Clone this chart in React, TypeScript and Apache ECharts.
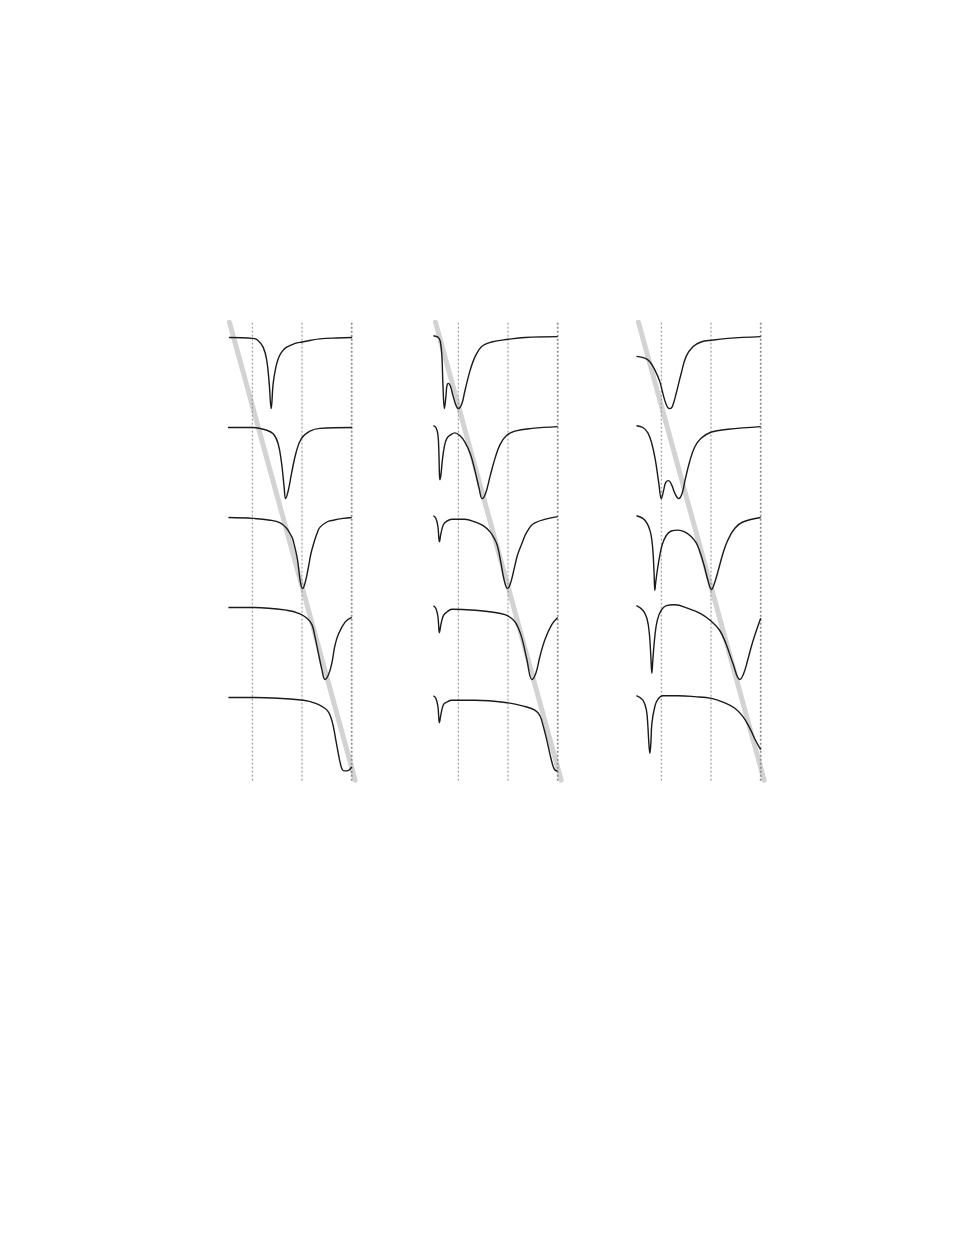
import React, { useEffect, useRef } from "react";
import * as echarts from "echarts";

// Frequency positions of the dotted reference lines (x axis units)
const GUIDE_X = [0, 1, 2];
const GUIDE_Y = [0.076, 5.166];
// Thick grey guide line (start and end, in data units)
const DIAGONAL: [number, number][] = [
  [-0.46, 5.17],
  [2.07, 0.08],
];
// vertical offset of each stacked trace (top to bottom)
const OFFSETS = [4, 3, 2, 1, 0];

// ---------- Panel 1: [x, transmission] ----------
const A1: [number, number][] = [
  [-0.47, 1.0], [0.01, 0.99], [0.11, 0.97], [0.22, 0.89], [0.29, 0.75], [0.34, 0.49],
  [0.38, 0.21], [0.42, 0.49], [0.47, 0.66], [0.52, 0.76], [0.57, 0.82], [0.63, 0.865],
  [0.7, 0.895], [0.8, 0.92], [0.9, 0.94], [1.0, 0.95], [1.18, 0.97], [1.36, 0.985],
  [1.7, 0.995], [2.01, 1.0],
];
const A2: [number, number][] = [
  [-0.49, 1.0], [0.01, 1.0], [0.26, 0.975], [0.42, 0.93], [0.52, 0.82], [0.59, 0.6],
  [0.64, 0.34], [0.67, 0.21], [0.72, 0.29], [0.79, 0.49], [0.88, 0.72], [0.99, 0.88],
  [1.16, 0.96], [1.36, 0.99], [2.01, 1.0],
];
const A3: [number, number][] = [
  [-0.48, 1.0], [0.02, 0.99], [0.36, 0.97], [0.56, 0.94], [0.69, 0.88], [0.79, 0.79],
  [0.82, 0.75], [0.91, 0.53], [0.96, 0.31], [1.01, 0.21], [1.06, 0.27], [1.13, 0.45],
  [1.18, 0.6], [1.24, 0.72], [1.3, 0.82], [1.36, 0.89], [1.5, 0.95], [1.63, 0.97],
  [1.83, 0.99], [2.0, 1.0],
];
const A4: [number, number][] = [
  [-0.48, 1.0], [0.02, 1.0], [0.69, 0.97], [0.96, 0.93], [1.1, 0.88], [1.2, 0.81],
  [1.26, 0.68], [1.33, 0.49], [1.4, 0.31], [1.46, 0.2], [1.53, 0.25], [1.6, 0.38],
  [1.66, 0.57], [1.73, 0.7], [1.87, 0.84], [2.0, 0.89],
];
const A5: [number, number][] = [
  [-0.48, 1.0], [0.02, 1.0], [1.03, 0.97], [1.3, 0.93], [1.46, 0.88], [1.53, 0.84],
  [1.58, 0.78], [1.63, 0.68], [1.68, 0.53], [1.73, 0.38], [1.77, 0.27], [1.81, 0.2],
  [1.85, 0.185], [1.9, 0.185], [1.95, 0.195], [2.0, 0.23],
];

// ---------- Panel 2 ----------
const B1: [number, number][] = [
  [-0.5, 1.02], [-0.4, 1.0], [-0.36, 0.95], [-0.33, 0.79], [-0.31, 0.49], [-0.28, 0.21],
  [-0.25, 0.34], [-0.23, 0.46], [-0.2, 0.49], [-0.16, 0.46], [-0.11, 0.36], [-0.05, 0.25],
  [0.0, 0.21], [0.07, 0.26], [0.13, 0.4], [0.24, 0.64], [0.34, 0.79], [0.47, 0.9],
  [0.67, 0.95], [1.01, 0.98], [1.34, 1.0], [2.0, 1.01],
];
const B2: [number, number][] = [
  [-0.5, 1.02], [-0.45, 1.0], [-0.41, 0.92], [-0.39, 0.71], [-0.38, 0.49], [-0.37, 0.42],
  [-0.35, 0.47], [-0.32, 0.64], [-0.28, 0.79], [-0.23, 0.88], [-0.15, 0.92], [-0.07, 0.94],
  [0.03, 0.91], [0.13, 0.84], [0.24, 0.71], [0.34, 0.51], [0.42, 0.32], [0.48, 0.21],
  [0.55, 0.27], [0.64, 0.46], [0.74, 0.66], [0.84, 0.81], [0.97, 0.91], [1.14, 0.96],
  [1.48, 0.99], [2.0, 1.01],
];
const B3: [number, number][] = [
  [-0.5, 1.02], [-0.45, 0.99], [-0.41, 0.9], [-0.38, 0.73], [-0.35, 0.82], [-0.3, 0.92],
  [-0.23, 0.96], [-0.13, 0.98], [0.13, 0.98], [0.34, 0.95], [0.5, 0.91], [0.64, 0.84],
  [0.74, 0.75], [0.79, 0.68], [0.86, 0.49], [0.92, 0.31], [0.99, 0.21], [1.05, 0.27],
  [1.12, 0.42], [1.19, 0.58], [1.28, 0.71], [1.38, 0.84], [1.54, 0.94], [2.0, 1.01],
];
const B4: [number, number][] = [
  [-0.5, 1.02], [-0.45, 0.99], [-0.41, 0.9], [-0.38, 0.72], [-0.35, 0.81], [-0.3, 0.91],
  [-0.23, 0.95], [-0.13, 0.98], [0.34, 0.97], [0.67, 0.95], [0.94, 0.92], [1.11, 0.86],
  [1.21, 0.77], [1.29, 0.64], [1.38, 0.42], [1.48, 0.2], [1.56, 0.27], [1.64, 0.45],
  [1.74, 0.64], [1.88, 0.81], [2.0, 0.89],
];
const B5: [number, number][] = [
  [-0.5, 1.02], [-0.45, 0.99], [-0.41, 0.9], [-0.38, 0.72], [-0.35, 0.81], [-0.3, 0.92],
  [-0.23, 0.95], [-0.13, 0.97], [0.34, 0.97], [1.01, 0.94], [1.34, 0.9], [1.54, 0.86],
  [1.64, 0.8], [1.71, 0.68], [1.78, 0.53], [1.84, 0.38], [1.9, 0.25], [1.95, 0.19],
  [2.0, 0.185],
];

// ---------- Panel 3 ----------
const C1: [number, number][] = [
  [-0.5, 0.79], [-0.33, 0.77], [-0.23, 0.73], [-0.13, 0.64], [-0.03, 0.51], [0.05, 0.34],
  [0.12, 0.23], [0.17, 0.21], [0.22, 0.23], [0.3, 0.38], [0.4, 0.6], [0.5, 0.79],
  [0.64, 0.9], [0.8, 0.95], [1.01, 0.97], [1.34, 0.99], [2.0, 1.01],
];
const C2: [number, number][] = [
  [-0.5, 1.02], [-0.37, 1.0], [-0.27, 0.94], [-0.19, 0.82], [-0.12, 0.64], [-0.05, 0.38],
  [0.0, 0.21], [0.05, 0.31], [0.09, 0.39], [0.15, 0.41], [0.21, 0.36], [0.28, 0.26],
  [0.35, 0.21], [0.42, 0.27], [0.48, 0.42], [0.57, 0.62], [0.67, 0.78], [0.8, 0.88],
  [1.01, 0.95], [1.34, 0.98], [2.0, 1.01],
];
const C3: [number, number][] = [
  [-0.5, 1.02], [-0.37, 0.99], [-0.28, 0.93], [-0.22, 0.84], [-0.19, 0.75], [-0.165, 0.6],
  [-0.145, 0.38], [-0.13, 0.19], [-0.11, 0.29], [-0.07, 0.45], [-0.03, 0.58], [0.02, 0.7],
  [0.1, 0.8], [0.2, 0.85], [0.34, 0.86], [0.47, 0.84], [0.6, 0.79], [0.7, 0.72],
  [0.77, 0.63], [0.86, 0.47], [0.94, 0.3], [1.01, 0.2], [1.07, 0.27], [1.15, 0.42],
  [1.24, 0.6], [1.34, 0.75], [1.48, 0.88], [1.64, 0.95], [2.0, 1.0],
];
const C4: [number, number][] = [
  [-0.5, 1.02], [-0.37, 0.97], [-0.29, 0.88], [-0.24, 0.71], [-0.21, 0.45], [-0.19, 0.27],
  [-0.17, 0.42], [-0.13, 0.68], [-0.08, 0.86], [0.0, 0.97], [0.1, 1.02], [0.27, 1.03],
  [0.54, 0.99], [0.8, 0.93], [1.0, 0.85], [1.17, 0.75], [1.3, 0.6], [1.44, 0.38],
  [1.58, 0.2], [1.66, 0.27], [1.74, 0.42], [1.84, 0.62], [2.0, 0.88],
];
const C5: [number, number][] = [
  [-0.5, 1.02], [-0.37, 0.97], [-0.3, 0.86], [-0.27, 0.68], [-0.25, 0.49], [-0.23, 0.38],
  [-0.21, 0.49], [-0.19, 0.71], [-0.13, 0.9], [-0.07, 0.98], [0.03, 1.02], [0.34, 1.02],
  [0.67, 1.01], [1.01, 0.99], [1.28, 0.94], [1.48, 0.88], [1.64, 0.79], [1.78, 0.66],
  [1.89, 0.53], [2.0, 0.42],
];

const PANELS = [
  [A1, A2, A3, A4, A5],
  [B1, B2, B3, B4, B5],
  [C1, C2, C3, C4, C5],
];
// left position of x = 0 for each panel, px
const PANEL_ORIGIN = [252.3, 458.3, 661.3];
const PX_PER_X = 49.7;
const PX_PER_Y = 90;
const X_MIN = -0.5;
const X_MAX = 2.1;
const Y_MIN = 0;
const Y_MAX = 5.2;
const Y_ZERO_PX = 787.5;

export default function App() {
  const ref = useRef<HTMLDivElement>(null);
  useEffect(() => {
    if (!ref.current) return;
    const chart = echarts.init(ref.current, undefined, { renderer: "svg" });
    const grids: any[] = [];
    const xAxes: any[] = [];
    const yAxes: any[] = [];
    const series: any[] = [];
    PANELS.forEach((curves, p) => {
      grids.push({
        left: PANEL_ORIGIN[p] + X_MIN * PX_PER_X,
        width: (X_MAX - X_MIN) * PX_PER_X,
        top: Y_ZERO_PX - Y_MAX * PX_PER_Y,
        height: (Y_MAX - Y_MIN) * PX_PER_Y,
      });
      xAxes.push({ gridIndex: p, type: "value", min: X_MIN, max: X_MAX, show: false });
      yAxes.push({ gridIndex: p, type: "value", min: Y_MIN, max: Y_MAX, show: false });
      series.push({
        type: "line",
        xAxisIndex: p,
        yAxisIndex: p,
        data: DIAGONAL,
        symbol: "none",
        clip: false,
        z: 1,
        silent: true,
        lineStyle: { color: "#d3d3d3", width: 5, cap: "round" },
      });
      GUIDE_X.forEach((gx, i) => {
        const last = i === GUIDE_X.length - 1;
        series.push({
          type: "line",
          xAxisIndex: p,
          yAxisIndex: p,
          data: GUIDE_Y.map((gy) => [gx, gy]),
          symbol: "none",
          clip: false,
          z: 2,
          silent: true,
          lineStyle: {
            color: "#8c8c8c",
            width: last ? 1.7 : 1,
            type: [2, 2],
          },
        });
      });
      curves.forEach((pts, k) => {
        series.push({
          type: "line",
          xAxisIndex: p,
          yAxisIndex: p,
          data: pts.map(([x, t]) => [x, t + OFFSETS[k]]),
          symbol: "none",
          smooth: 0.4,
          clip: false,
          z: 3,
          lineStyle: { color: "#1a1a1a", width: 1.4 },
        });
      });
    });
    chart.setOption({
      animation: false,
      backgroundColor: "#ffffff",
      grid: grids,
      xAxis: xAxes,
      yAxis: yAxes,
      series,
    });
    return () => chart.dispose();
  }, []);
  return (
    <div
      ref={ref}
      style={{ position: "absolute", left: 0, top: 0, width: 954, height: 1235 }}
    />
  );
}
